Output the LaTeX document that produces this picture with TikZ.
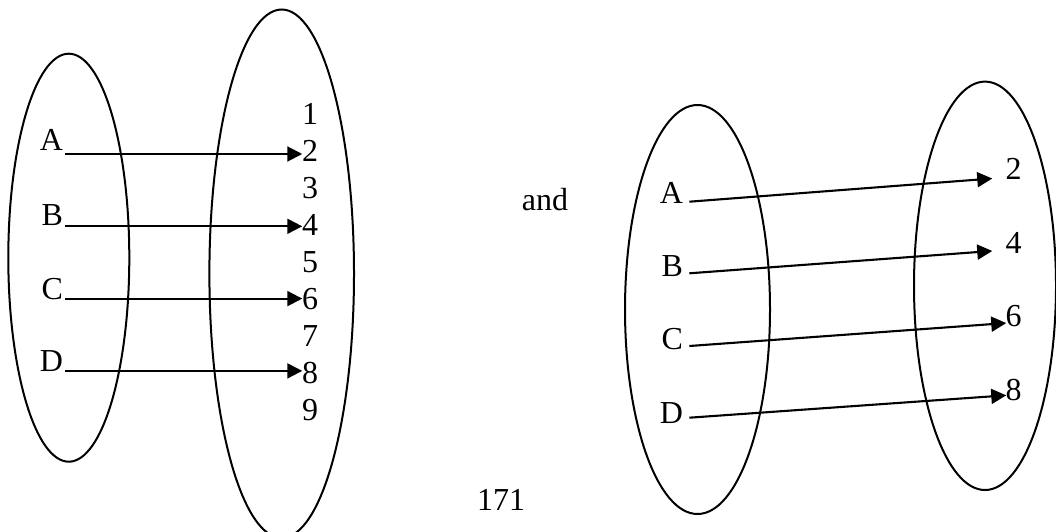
\documentclass[tikz,border=0pt]{standalone}
\usepackage{fontspec}
\setmainfont{Liberation Serif}
\usetikzlibrary{arrows.meta,calc}
\begin{document}
\begin{tikzpicture}[x=1pt,y=-1pt,line width=2.1pt,
  lbl/.style={inner sep=0pt,font=\fontsize{32}{32}\selectfont},
  arr/.style={-{Triangle[length=15pt,width=15pt]}},
  setline/.style={draw,line width=2pt}]
\useasboundingbox (0,0) rectangle (1056,532);
\clip (0,0) rectangle (1056,532);
% ---------- left figure ----------
\draw[setline] (68.8,257.7) ellipse [x radius=60.5pt,y radius=204pt];
\draw[setline] (281.7,273.7) ellipse [x radius=72.3pt,y radius=264.2pt];
\node[lbl,anchor=base east] (lA) at (64,150.6) {A};
\node[lbl,anchor=base east] (lB) at (64,225.3) {B};
\node[lbl,anchor=base east] (lC) at (64,299.6) {C};
\node[lbl,anchor=base east] (lD) at (64,371.6) {D};
\foreach \k in {1,...,9}
  \node[lbl,anchor=base] (n\k) at (310,{124.1+37*(\k-1)}) {\k};
\draw[arr] (lA.base east) ++(1,3.4) coordinate (sA) -- ($(sA -| n2.west)+(1.3,0)$);
\draw[arr] (lB.base east) ++(1,1.0) coordinate (sB) -- ($(sB -| n4.west)+(1.3,0)$);
\draw[arr] (lC.base east) ++(1,-1.0) coordinate (sC) -- ($(sC -| n6.west)+(1.3,0)$);
\draw[arr] (lD.base east) ++(1,-0.7) coordinate (sD) -- ($(sD -| n8.west)+(1.3,0)$);
% ---------- middle ----------
\node[lbl,anchor=base] (andtxt) at (545,210) {and};
\node[lbl,anchor=base] (page) at (501,510) {171};
% ---------- right figure ----------
\draw[setline] (697.5,309.5) ellipse [x radius=72.5pt,y radius=204.5pt];
\draw[setline] (985,285.8) ellipse [x radius=71pt,y radius=204.2pt];
\node[lbl,anchor=base east] (rA) at (684,203.3) {A};
\node[lbl,anchor=base east] (rB) at (684,276) {B};
\node[lbl,anchor=base east] (rC) at (684,349.3) {C};
\node[lbl,anchor=base east] (rD) at (684,423.3) {D};
\node[lbl,anchor=base] (m2) at (1013.5,179.3) {2};
\node[lbl,anchor=base] (m4) at (1013.5,253.3) {4};
\node[lbl,anchor=base] (m6) at (1013.5,326.7) {6};
\node[lbl,anchor=base] (m8) at (1013.5,400) {8};
\draw[arr] ($(rA.base east)+(5.3,-1.6)$) -- ($(m2.west)+(-12.2,9.8)$);
\draw[arr] ($(rB.base east)+(5.3,-2.7)$) -- ($(m4.west)+(-12.2,8.2)$);
\draw[arr] ($(rC.base east)+(5.3,-3.3)$) -- ($(m6.west)+(1.8,6.8)$);
\draw[arr] ($(rD.base east)+(5.3,-5.6)$) -- ($(m8.west)+(1.8,5.8)$);
\end{tikzpicture}
\end{document}
